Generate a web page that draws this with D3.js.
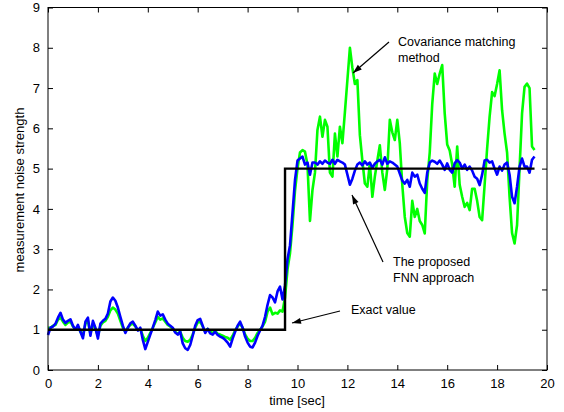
<!DOCTYPE html>
<html><head><meta charset="utf-8">
<script src="https://cdn.jsdelivr.net/npm/d3@7"></script>
<style>body{margin:0;background:#fff}svg{display:block}text{font-family:"Liberation Sans",Arial,sans-serif}</style>
</head><body>
<svg id="c" width="564" height="412"></svg>
<script>
const tStart = 0, tStep = 0.1;
const blue = [0.87,1.05,1.08,1.15,1.30,1.42,1.25,1.17,1.22,1.26,1.10,1.00,1.12,0.95,0.79,1.20,1.30,0.85,1.22,1.05,
0.78,1.15,1.22,1.27,1.40,1.70,1.80,1.72,1.55,1.32,1.10,0.92,1.05,1.16,1.20,1.10,0.98,1.05,0.75,0.52,
0.70,0.88,1.05,1.24,1.45,1.35,1.38,1.25,1.15,1.10,1.05,0.93,0.88,0.95,0.66,0.54,0.50,0.62,0.85,1.10,
1.24,1.27,1.10,0.92,1.02,0.91,0.88,0.95,0.87,0.83,0.80,0.75,0.68,0.58,0.78,0.95,1.10,1.20,1.05,0.83,
0.68,0.58,0.56,0.68,0.85,0.98,1.10,1.32,1.62,1.86,1.80,1.68,1.95,2.07,1.75,2.10,2.75,3.10,3.90,4.72,
5.20,5.25,5.30,5.10,5.15,4.85,5.15,5.15,5.10,5.18,5.12,5.20,5.15,5.12,5.22,5.12,5.22,5.18,5.15,5.10,
4.85,4.60,4.75,4.95,5.10,5.15,5.08,5.18,5.10,5.15,5.02,5.12,5.18,5.22,5.10,5.28,5.12,5.18,5.15,5.10,
5.05,4.88,4.70,4.63,4.72,4.55,4.90,4.80,4.85,4.63,4.50,4.40,4.90,5.15,5.20,5.17,5.12,5.20,5.10,4.97,
5.13,4.97,4.90,5.13,5.21,5.15,5.00,5.10,4.97,5.05,4.95,4.80,4.75,4.59,4.85,5.20,5.22,5.15,5.18,5.00,
4.85,5.05,4.95,5.10,5.15,4.85,4.30,4.14,4.55,5.05,5.25,5.05,5.05,4.90,5.22,5.30];
const green = [1.05,1.05,1.10,1.12,1.25,1.30,1.20,1.12,1.18,1.20,1.08,1.00,1.08,0.95,0.85,1.15,1.22,0.90,1.15,1.02,
0.85,1.10,1.18,1.22,1.32,1.48,1.55,1.50,1.40,1.22,1.05,0.95,1.05,1.12,1.15,1.08,1.00,1.02,0.85,0.72,
0.80,0.92,1.05,1.18,1.32,1.25,1.28,1.20,1.12,1.08,1.02,0.95,0.90,0.95,0.80,0.72,0.70,0.75,0.88,1.05,
1.18,1.20,1.08,0.95,1.02,0.95,0.92,0.97,0.90,0.88,0.85,0.82,0.80,0.75,0.85,0.98,1.08,1.15,1.05,0.88,
0.78,0.72,0.72,0.80,0.92,1.00,1.08,1.20,1.45,1.55,1.38,1.42,1.40,1.48,1.45,1.80,2.50,2.90,3.60,4.45,
5.00,5.40,5.46,5.42,5.10,3.70,4.47,4.90,5.96,6.29,5.79,6.21,6.04,4.90,4.80,5.87,5.30,6.04,5.63,6.40,
7.20,8.00,7.50,7.10,7.20,5.83,5.20,4.63,4.55,5.13,4.30,4.80,5.20,5.58,4.90,4.47,5.00,6.21,5.90,5.71,
6.21,5.63,4.60,3.80,3.40,3.31,4.20,3.80,4.00,3.70,3.60,3.39,4.70,5.40,6.60,7.36,7.10,7.36,7.57,6.37,
5.60,5.45,5.10,4.55,5.55,4.60,4.30,4.05,4.15,3.97,4.50,4.50,4.20,3.80,3.72,4.60,5.50,6.29,6.90,6.80,
7.10,7.44,6.45,5.87,5.40,4.30,3.40,3.14,3.60,5.00,6.37,7.03,7.11,7.00,5.55,5.46];
const exactT = [0, 9.5, 9.5, 19.5];
const exactV = [1, 1, 5, 5];
const xTicks = [0,2,4,6,8,10,12,14,16,18,20];
const yTicks = [0,1,2,3,4,5,6,7,8,9];

const svg = d3.select("#c");
const L = 48, R = 547, T = 7.5, B = 370;
const x = d3.scaleLinear().domain([0,20]).range([L,R]);
const y = d3.scaleLinear().domain([0,9]).range([B,T]);

const line = d3.line().x(d=>x(d[0])).y(d=>y(d[1]));
const toPts = arr => arr.map((v,i)=>[tStart+i*tStep, v]);

const g = svg.append("g");
g.append("path").datum(toPts(green)).attr("d", line).attr("fill","none").attr("stroke","#00ff00").attr("stroke-width",2.6).attr("stroke-linejoin","round");
g.append("path").datum(toPts(blue)).attr("d", line).attr("fill","none").attr("stroke","#0000ff").attr("stroke-width",2.6).attr("stroke-linejoin","round");
g.append("path").datum(exactT.map((t,i)=>[t,exactV[i]])).attr("d", line).attr("fill","none").attr("stroke","#000").attr("stroke-width",2.4);

// frame
svg.append("rect").attr("x",L).attr("y",T).attr("width",R-L).attr("height",B-T).attr("fill","none").attr("stroke","#000").attr("stroke-width",1);

const ax = d3.axisBottom(x).tickValues(xTicks).tickSize(-5).tickPadding(9).tickFormat(d3.format("d"));
const ay = d3.axisLeft(y).tickValues(yTicks).tickSize(-5).tickPadding(8).tickFormat(d3.format("d"));
const axT = d3.axisTop(x).tickValues(xTicks).tickSize(-5).tickFormat("");
const ayR = d3.axisRight(y).tickValues(yTicks).tickSize(-5).tickFormat("");
function style(sel){ sel.select(".domain").remove(); sel.selectAll("line").attr("stroke","#000"); sel.selectAll("text").attr("fill","#000").style("font-size","13px"); }
svg.append("g").attr("transform",`translate(0,${B})`).call(ax).call(style);
svg.append("g").attr("transform",`translate(${L},0)`).call(ay).call(style);
svg.append("g").attr("transform",`translate(0,${T})`).call(axT).call(style);
svg.append("g").attr("transform",`translate(${R},0)`).call(ayR).call(style);

svg.append("text").attr("x",297).attr("y",405).attr("text-anchor","middle").style("font-size","13px").text("time [sec]");
svg.append("text").attr("transform","translate(24,190) rotate(-90)").attr("text-anchor","middle").style("font-size","13px").text("measurement noise strength");

// annotations
function arrow(x1,y1,x2,y2){
  svg.append("line").attr("x1",x1).attr("y1",y1).attr("x2",x2).attr("y2",y2).attr("stroke","#000").attr("stroke-width",1.2);
  const a = Math.atan2(y2-y1,x2-x1), len=9, w=3;
  const bx = x2-len*Math.cos(a), by = y2-len*Math.sin(a);
  const p = [[x2,y2],[bx - w*Math.sin(a), by + w*Math.cos(a)],[bx + w*Math.sin(a), by - w*Math.cos(a)]];
  svg.append("path").attr("d","M"+p.map(q=>q.join(",")).join("L")+"Z").attr("fill","#000");
}
const notes = [
  {x:398, y:46, lines:["Covariance matching","method"]},
  {x:393, y:266, lines:["The proposed","FNN approach"]},
  {x:351, y:314, lines:["Exact value"]}
];
notes.forEach(n=>{
  const t = svg.append("text").attr("x",n.x).attr("y",n.y).style("font-size","12.5px");
  n.lines.forEach((s,i)=>t.append("tspan").attr("x",n.x).attr("dy",i?16:0).text(s));
});
arrow(389,42,353,73);
arrow(383,262,352,195);
arrow(340,311,292,323);
</script>
</body></html>
